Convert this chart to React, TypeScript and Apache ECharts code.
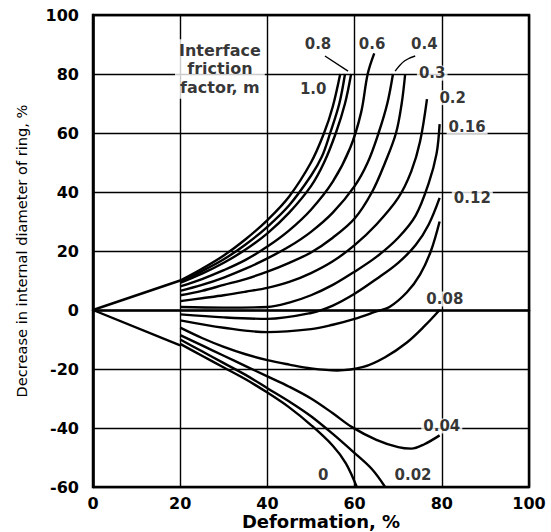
import React, { useEffect, useRef } from "react";
import * as echarts from "echarts";

// Deformation (%) vs decrease in internal diameter of ring (%), one curve per friction factor m
const curveM100 = [[20, 10], [25, 14], [30, 18.5], [35, 24], [40, 30.5], [45, 38.5], [50, 50], [53, 60], [55, 69], [56.7, 80]];
const curveM080 = [[20, 9.6], [25, 13.2], [30, 17.2], [35, 22.2], [40, 28.2], [45, 35.5], [50, 45.5], [52.5, 52], [54.4, 60], [56.5, 70], [57.8, 80]];
const curveM070 = [[20, 9.2], [25, 12.3], [30, 16], [35, 20.5], [40, 26], [45, 33], [50, 42], [53, 50], [55.7, 60], [57.8, 70], [59.2, 80]];
const curveM060 = [[20, 8], [25, 10.5], [30, 13.5], [35, 17], [40, 21.5], [45, 27], [50, 34], [55, 43.5], [59, 55], [61.5, 67], [63, 80], [64.5, 87]];
const curveM040 = [[20, 6.5], [25, 8.5], [30, 11], [35, 14], [40, 17.5], [45, 21.5], [50, 26.5], [55, 33], [60, 42], [63, 50], [65.5, 60], [67.5, 70], [68.8, 80]];
const curveM030 = [[20, 5], [25, 6.5], [30, 8.5], [35, 10.5], [40, 13], [45, 16], [50, 19.5], [55, 24.5], [60, 31], [64, 40], [67, 50], [69.5, 60], [70.8, 70], [71.6, 80]];
const curveM020 = [[20, 3], [25, 4], [30, 5], [35, 6.2], [40, 7.5], [45, 9.5], [50, 12.5], [55, 16.5], [60, 22], [65, 29], [70, 38], [73, 47], [75, 57], [76.6, 71.5]];
const curveM016 = [[20, 1], [30, 0.8], [40, 1], [45, 2.5], [50, 5], [55, 8.5], [60, 13], [65, 18], [70, 24.5], [74, 32], [77, 43], [78.8, 53], [79.5, 63]];
const curveM012 = [[20, -1.5], [30, -2.5], [40, -3], [50, -1], [55, 1.5], [60, 5.5], [65, 10.5], [70, 16], [74, 22], [77, 29], [79.5, 38]];
const curveM010 = [[20, -3.5], [30, -6], [40, -7.5], [50, -6.5], [55, -5], [60, -3], [65, -0.5], [68, 1], [72, 6], [75, 12], [77.5, 20], [79.5, 30]];
const curveM008 = [[20, -6], [25, -9.5], [30, -12.5], [35, -15], [40, -17], [45, -18.5], [50, -19.8], [56, -20.5], [62, -19.3], [67, -16], [72, -11], [76, -5.5], [79.5, 0]];
const curveM004 = [[20, -8.5], [25, -12], [30, -15.5], [35, -19], [40, -22.5], [45, -26], [50, -30], [55, -35], [59.4, -39.7], [65, -44], [70, -46.5], [73, -47], [76, -45.5], [79.5, -42.5]];
const curveM002 = [[20, -10], [25, -14], [30, -18], [35, -22], [40, -26.5], [45, -31], [50, -36], [55, -42], [60, -48.5], [64, -54], [67, -60]];
const curveM000 = [[20, -11.5], [25, -15.5], [30, -19.5], [35, -23.5], [40, -28], [45, -33], [50, -39], [55, -46], [58, -52], [60.5, -60]];
const initialUpper = [[0, 0], [20, 10]];
const initialLower = [[0, 0], [20, -12]];

const allCurves = [
  initialUpper, initialLower,
  curveM100, curveM080, curveM070, curveM060, curveM040, curveM030,
  curveM020, curveM016, curveM012, curveM010, curveM008, curveM004, curveM002, curveM000,
];

// leader lines from labels to curves
const leader08 = [[53.2, 86.1], [58.5, 81]];
const leader04 = [[73.9, 86.1], [71.5, 84.5], [69.3, 81]];

// curve labels
const labelTexts = ["0.8", "0.6", "0.4", "0.3", "1.0", "0.2", "0.16", "0.12", "0.08", "0.04", "0.02", "0"];
const labelX = [51.6, 64, 76, 77.8, 50.5, 82.5, 85.8, 87, 80.7, 80, 73.4, 52.8];
const labelY = [90.2, 90.2, 90.2, 80.3, 75, 72, 62, 38, 3.7, -39.3, -56, -56];

const titleText = "Interface\nfriction\nfactor, m";
const titlePos = [29.1, 81.7];

const xMin = 0, xMax = 100, xStep = 20;
const yMin = -60, yMax = 100, yStep = 20;

const FONT = "DejaVu Sans";

export default function App() {
  const ref = useRef<HTMLDivElement>(null);
  useEffect(() => {
    if (!ref.current) return;
    const chart = echarts.init(ref.current, undefined, { renderer: "svg" });
    const lineSeries = allCurves.map((d) => ({
      type: "line",
      data: d,
      smooth: 0.35,
      showSymbol: false,
      symbol: "none",
      lineStyle: { color: "#000", width: 2.4 },
      z: 3,
    }));
    const leaders = [leader08, leader04].map((d) => ({
      type: "line",
      data: d,
      smooth: 0.4,
      showSymbol: false,
      symbol: "none",
      lineStyle: { color: "#000", width: 1.4 },
      z: 3,
    }));
    chart.setOption({
      animation: false,
      backgroundColor: "#fff",
      grid: {
        left: 93, right: 22, top: 15, bottom: 45,
        show: true, borderColor: "#000", borderWidth: 2.5,
        containLabel: false, outerBoundsMode: "none",
      },
      xAxis: {
        type: "value", min: xMin, max: xMax, interval: xStep,
        name: "Deformation, %",
        nameLocation: "middle",
        nameGap: 25,
        nameMoveOverlap: false,
        nameTextStyle: { fontFamily: FONT, fontWeight: "bold", fontSize: 18, lineHeight: 19, color: "#000", padding: [0, 0, 0, 20] },
        axisLine: { show: true, lineStyle: { color: "#000", width: 2.5 } },
        axisTick: { show: false },
        axisLabel: { fontFamily: FONT, fontWeight: "bold", fontSize: 16, lineHeight: 16, color: "#000", margin: 8 },
        splitLine: { show: true, lineStyle: { color: "#000", width: 1.4 } },
      },
      yAxis: {
        type: "value", min: yMin, max: yMax, interval: yStep,
        name: "Decrease in internal diameter of ring, %",
        nameLocation: "middle",
        nameGap: 64,
        nameMoveOverlap: false,
        nameTextStyle: { fontFamily: FONT, fontSize: 14.6, color: "#000" },
        axisLine: { show: true, lineStyle: { color: "#000", width: 2.5 } },
        axisTick: { show: false },
        axisLabel: { fontFamily: FONT, fontWeight: "bold", fontSize: 16, color: "#000", margin: 14, padding: [7, 0, 0, 0] },
        splitLine: { show: true, lineStyle: { color: "#000", width: 1.4 } },
      },
      series: [
        ...lineSeries,
        ...leaders,
        {
          type: "scatter",
          symbolSize: 0,
          z: 10,
          data: labelTexts.map((t, i) => [labelX[i], labelY[i], t]),
          label: {
            show: true,
            position: "inside",
            formatter: (p: any) => p.value[2],
            fontFamily: FONT,
            fontWeight: "bold",
            fontSize: 15,
            color: "#000",
            backgroundColor: "#fff",
            padding: [0, 2],
          },
        },
        {
          type: "scatter",
          symbolSize: 0,
          z: 10,
          data: [[titlePos[0], titlePos[1], titleText]],
          label: {
            show: true,
            position: "inside",
            formatter: (p: any) => p.value[2],
            fontFamily: FONT,
            fontWeight: "bold",
            fontSize: 16,
            lineHeight: 18.5,
            align: "center",
            color: "#000",
            backgroundColor: "#fff",
            padding: [2, 4],
          },
        },
      ],
    });
    return () => chart.dispose();
  }, []);
  return <div ref={ref} style={{ width: 551, height: 532, position: "absolute", left: 0, top: 0 }} />;
}
